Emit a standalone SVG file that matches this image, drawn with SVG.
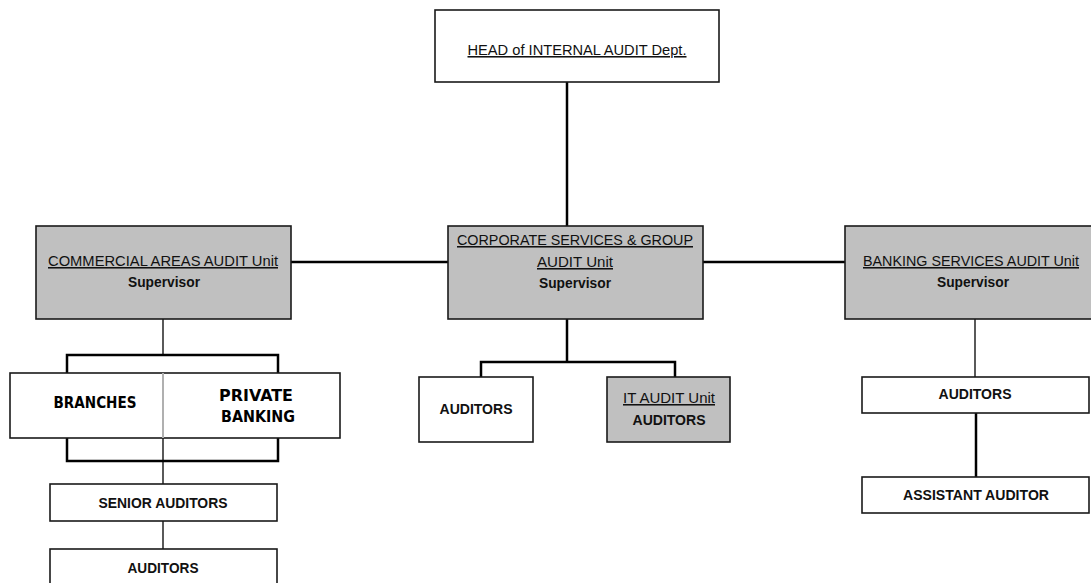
<svg xmlns="http://www.w3.org/2000/svg" width="1091" height="583" viewBox="0 0 1091 583">
<style>
.box{fill:#fff;stroke:#1a1a1a;stroke-width:1.6}
.gray{fill:#c0c0c0;stroke:#1a1a1a;stroke-width:1.6}
.t{font-family:"Liberation Sans",Arial,sans-serif;font-size:15.5px;fill:#111;text-anchor:middle}
.u{text-decoration:underline;text-decoration-thickness:2px}
.b{font-weight:bold;font-size:15px}
.px{font-family:"DejaVu Sans",sans-serif;font-size:15px;font-weight:bold;fill:#000;text-anchor:middle}
.thick{stroke:#000;stroke-width:2.5;fill:none}
.thin{stroke:#000;stroke-width:1.3;fill:none}
</style>
<rect width="1091" height="583" fill="#fff"/>
<g id="connectors">
<line class="thick" x1="567" y1="82" x2="567" y2="226"/>
<line class="thick" x1="291" y1="262" x2="448" y2="262"/>
<line class="thick" x1="703" y1="262" x2="845" y2="262"/>
<line class="thin" x1="163" y1="319" x2="163" y2="355"/>
<polyline class="thick" points="67,373 67,355 278,355 278,373"/>
<polyline class="thick" points="67,438 67,461 278,461 278,438"/>
<line class="thin" x1="163" y1="438" x2="163" y2="484"/>
<line class="thin" x1="163" y1="521" x2="163" y2="549"/>
<line class="thick" x1="567" y1="319" x2="567" y2="362"/>
<polyline class="thick" points="481,377 481,362 675,362 675,377"/>
<line class="thin" x1="975" y1="319" x2="975" y2="377"/>
<line class="thick" x1="976" y1="413" x2="976" y2="477"/>
</g>
<g id="head">
<rect class="box" x="435" y="10" width="284" height="72"/>
<text class="t u" x="577" y="55" textLength="219" lengthAdjust="spacingAndGlyphs">HEAD of INTERNAL AUDIT Dept.</text>
</g>
<g id="commercial">
<rect class="gray" x="36" y="226" width="255" height="93"/>
<text class="t u" x="163" y="266" textLength="230" lengthAdjust="spacingAndGlyphs">COMMERCIAL AREAS AUDIT Unit</text>
<text class="t b" x="164" y="287" textLength="72" lengthAdjust="spacingAndGlyphs">Supervisor</text>
</g>
<g id="corporate">
<rect class="gray" x="448" y="226" width="255" height="93"/>
<text class="t u" x="575" y="245" textLength="236" lengthAdjust="spacingAndGlyphs">CORPORATE SERVICES &amp; GROUP</text>
<text class="t u" x="575" y="267" textLength="76" lengthAdjust="spacingAndGlyphs">AUDIT Unit</text>
<text class="t b" x="575" y="288" textLength="72" lengthAdjust="spacingAndGlyphs">Supervisor</text>
</g>
<g id="banking">
<rect class="gray" x="845" y="226" width="248" height="93"/>
<text class="t u" x="971" y="266" textLength="216" lengthAdjust="spacingAndGlyphs">BANKING SERVICES AUDIT Unit</text>
<text class="t b" x="973" y="287" textLength="72" lengthAdjust="spacingAndGlyphs">Supervisor</text>
</g>
<g id="branches-private">
<rect class="box" x="10" y="373" width="330" height="65" stroke="#555"/>
<line x1="163" y1="373" x2="163" y2="438" stroke="#b0b0b0" stroke-width="2"/>
<text class="px" x="95" y="408" textLength="83" lengthAdjust="spacingAndGlyphs">BRANCHES</text>
<text class="px" x="256" y="401" textLength="74" lengthAdjust="spacingAndGlyphs">PRIVATE</text>
<text class="px" x="258" y="422" textLength="74" lengthAdjust="spacingAndGlyphs">BANKING</text>
</g>
<g id="senior-auditors">
<rect class="box" x="50" y="484" width="227" height="37"/>
<text class="t b" x="163" y="508" textLength="129" lengthAdjust="spacingAndGlyphs">SENIOR AUDITORS</text>
</g>
<g id="commercial-auditors">
<rect class="box" x="50" y="549" width="227" height="40"/>
<text class="t b" x="163" y="573" textLength="71" lengthAdjust="spacingAndGlyphs">AUDITORS</text>
</g>
<g id="corporate-auditors">
<rect class="box" x="419" y="377" width="114" height="65"/>
<text class="t b" x="476" y="414" textLength="73" lengthAdjust="spacingAndGlyphs">AUDITORS</text>
</g>
<g id="it-audit">
<rect class="gray" x="607" y="377" width="123" height="65"/>
<text class="t u" x="669" y="403" textLength="92" lengthAdjust="spacingAndGlyphs">IT AUDIT Unit</text>
<text class="t b" x="669" y="425" textLength="73" lengthAdjust="spacingAndGlyphs">AUDITORS</text>
</g>
<g id="banking-auditors">
<rect class="box" x="862" y="377" width="227" height="36"/>
<text class="t b" x="975" y="399" textLength="73" lengthAdjust="spacingAndGlyphs">AUDITORS</text>
</g>
<g id="assistant-auditor">
<rect class="box" x="862" y="477" width="227" height="36"/>
<text class="t b" x="976" y="500" textLength="146" lengthAdjust="spacingAndGlyphs">ASSISTANT AUDITOR</text>
</g>
</svg>
